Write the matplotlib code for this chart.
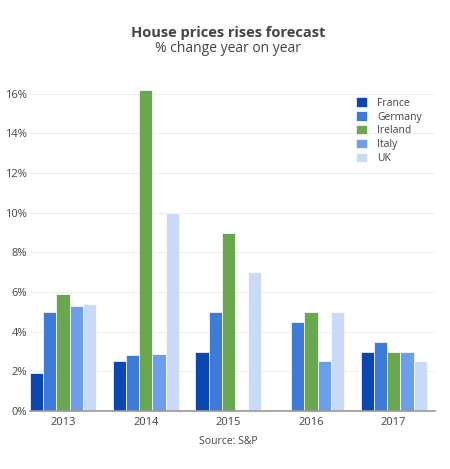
import matplotlib
matplotlib.use('Agg')
import matplotlib.pyplot as plt
import numpy as np
from matplotlib.ticker import FuncFormatter

plt.rcParams['font.family'] = ['Open Sans', 'DejaVu Sans']

# data
years = ['2013', '2014', '2015', '2016', '2017']
countries = ['France', 'Germany', 'Ireland', 'Italy', 'UK']
france = [1.9, 2.5, 3.0, 0, 3.0]
germany = [5.0, 2.8, 5.0, 4.5, 3.5]
ireland = [5.9, 16.2, 9.0, 5.0, 3.0]
italy = [5.3, 2.9, 0, 2.5, 3.0]
uk = [5.4, 10.0, 7.0, 5.0, 2.5]
colors = ['#0b47b0', '#3e7bd9', '#6aa84f', '#6d9eeb', '#c9daf8']

W, H = 450, 469
fig = plt.figure(figsize=(W / 100, H / 100), dpi=100)
ax = fig.add_axes([30 / W, 58 / H, 405 / W, 338 / H])

x = np.arange(len(years))
bw = 0.8 / 5
for i, (name, vals) in enumerate(zip(countries, [france, germany, ireland, italy, uk])):
    ax.bar(x - 0.4 + bw * (i + 0.5), vals, width=bw, color=colors[i],
           edgecolor='white', linewidth=0.5, label=name, zorder=2)

ax.set_xlim(-0.4, 4.5)
ax.set_ylim(0, 17.05)
ax.set_yticks(range(0, 17, 2))
ax.yaxis.set_major_formatter(FuncFormatter(lambda v, p: '%d%%' % v))
ax.set_xticks(x)
ax.set_xticklabels(years)
ax.grid(axis='y', color='#eeeeee', linewidth=0.8, zorder=0)
for s in ['top', 'right', 'left']:
    ax.spines[s].set_visible(False)
ax.spines['bottom'].set_color('#999999')
ax.spines['bottom'].set_linewidth(1.2)
ax.tick_params(axis='both', length=0, labelsize=8, colors='#444444')
ax.tick_params(axis='x', pad=4)
ax.tick_params(axis='y', pad=2)

leg = ax.legend(loc='upper left', bbox_to_anchor=(0.795, 0.94), frameon=False,
                fontsize=7.5, handlelength=1.0, handleheight=1.0,
                handletextpad=1.0, labelspacing=0.25, borderaxespad=0)
for t in leg.get_texts():
    t.set_color('#444444')

fig.text(228 / W, 1 - 33 / H, 'House prices rises forecast', ha='center', va='center',
         fontsize=10.5, fontweight='bold', color='#444444')
fig.text(228 / W, 1 - 48 / H, '% change year on year', ha='center', va='center',
         fontsize=10, color='#444444')
fig.text(228 / W, 1 - 441 / H, 'Source: S&P', ha='center', va='center',
         fontsize=7.5, color='#444444')

fig.savefig('out.png', dpi=100)
